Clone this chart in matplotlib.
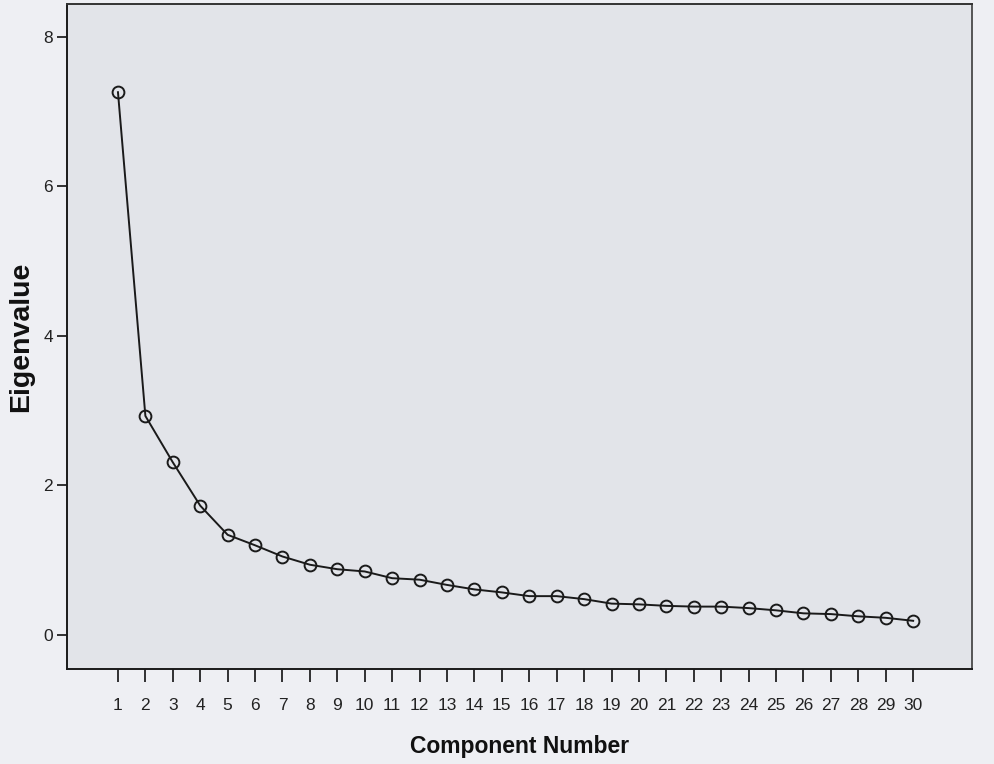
import matplotlib
matplotlib.use("Agg")
import matplotlib.pyplot as plt

components = list(range(1, 31))
eigenvalues = [7.26, 2.93, 2.31, 1.73, 1.34, 1.20, 1.05, 0.94, 0.88, 0.85,
               0.76, 0.74, 0.67, 0.61, 0.57, 0.52, 0.52, 0.48, 0.42, 0.41,
               0.39, 0.38, 0.38, 0.36, 0.33, 0.29, 0.28, 0.25, 0.23, 0.19]
y_ticks = [0, 2, 4, 6, 8]

plt.rcParams['font.family'] = ['Liberation Sans', 'DejaVu Sans']

fig = plt.figure(figsize=(9.95, 7.64), dpi=100, facecolor='#eeeff3')
ax = fig.add_axes([0.0673, 0.1243, 0.9097, 0.8705])
ax.set_facecolor('#e2e4e9')

ax.plot(components, eigenvalues, color='#1a1a1a', linewidth=1.4,
        marker='o', markersize=8.5, markerfacecolor='none',
        markeredgecolor='#1a1a1a', markeredgewidth=1.4)

ax.set_xlim(-0.86, 32.15)
ax.set_ylim(-0.455, 8.44)
ax.set_xticks(components)
ax.set_xticklabels([str(c) for c in components])
ax.set_yticks(y_ticks)
ax.tick_params(axis='x', length=9, width=1.3, pad=12, labelsize=12.5, colors='#222222')
ax.tick_params(axis='y', length=7, width=1.3, pad=3, labelsize=12.5, colors='#222222')

for s in ax.spines.values():
    s.set_linewidth(1.4)
    s.set_color('#1a1a1a')
ax.spines['right'].set_color('#555555')
ax.spines['top'].set_color('#333333')

ax.set_xlabel('Component Number', fontsize=16.5, fontweight='bold', labelpad=16, color='#111111')
ax.set_ylabel('Eigenvalue', fontsize=20.5, fontweight='bold', labelpad=7, color='#111111')

fig.savefig('out.png', dpi=100, facecolor=fig.get_facecolor())
